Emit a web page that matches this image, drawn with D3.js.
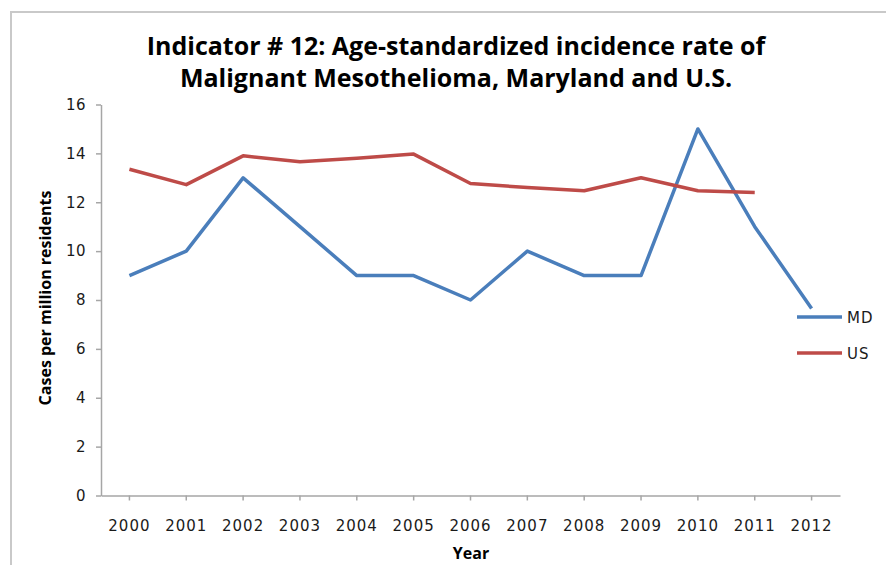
<!DOCTYPE html>
<html>
<head>
<meta charset="utf-8">
<script src="https://cdn.jsdelivr.net/npm/d3@7"></script>
<style>
  body { margin: 0; background: #fff; }
  svg { display: block; font-family: "Open Sans", "DejaVu Sans", sans-serif; }
  .tickfont { font-family: "DejaVu Sans", sans-serif; }
</style>
</head>
<body>
<svg id="chart" width="886" height="565"></svg>
<script>
// data
var years = ["2000","2001","2002","2003","2004","2005","2006","2007","2008","2009","2010","2011","2012"];
var mdValues = [9, 10, 13, 11, 9, 9, 8, 10, 9, 9, 15, 11, 7.65];
var usValues = [13.35, 12.72, 13.9, 13.66, 13.8, 13.97, 12.77, 12.6, 12.47, 13.0, 12.47, 12.4];
var yTicks = [0, 2, 4, 6, 8, 10, 12, 14, 16];
var seriesNames = ["MD", "US"];
var seriesColors = ["#4a7ebb", "#be4b48"];

var marge = {haut: 104.5, droite: 46, bas: 69.5, gauche: 101};
var largeur = 886, hauteur = 565;

var svg = d3.select("#chart");

// outer frame
svg.append("path")
  .attr("d", `M11,${hauteur + 5} V12 H${largeur + 5}`)
  .attr("fill", "none")
  .attr("stroke", "#c9c9c9")
  .attr("stroke-width", 2);

var xScale = d3.scaleBand().domain(years).range([marge.gauche, largeur - marge.droite]);
var yScale = d3.scaleLinear().domain([0, 16]).range([hauteur - marge.bas, marge.haut]);
var xPos = d => xScale(d) + xScale.bandwidth() / 2;

// y axis
var yAxis = g => g
  .attr("transform", `translate(${marge.gauche},0)`)
  .call(d3.axisLeft(yScale).tickValues(yTicks).tickSize(5).tickPadding(10).tickSizeOuter(0));
var gy = svg.append("g").call(yAxis);
gy.select(".domain").attr("stroke", "#a6a6a6").attr("stroke-width", 1.5);
gy.selectAll(".tick line").attr("stroke", "#a6a6a6").attr("stroke-width", 1.5);
gy.selectAll(".tick text").attr("class", "tickfont").attr("fill", "#1a1a1a")
  .style("font-size", "15px").style("letter-spacing", "0.5px");

// x axis
var gx = svg.append("g")
  .attr("transform", `translate(0,${hauteur - marge.bas})`)
  .call(d3.axisBottom(xScale).tickSize(5).tickPadding(20).tickSizeOuter(0));
gx.select(".domain").attr("stroke", "#a6a6a6").attr("stroke-width", 1.5);
gx.selectAll(".tick line").attr("stroke", "#a6a6a6").attr("stroke-width", 1.5);
gx.selectAll(".tick text").attr("class", "tickfont").attr("fill", "#1a1a1a")
  .style("font-size", "15px").style("letter-spacing", "1px");

// lines
var line = d3.line()
  .x((d, i) => xPos(years[i]))
  .y(d => yScale(d));

[mdValues, usValues].forEach(function(vals, k) {
  svg.append("path")
    .datum(vals)
    .attr("fill", "none")
    .attr("stroke", seriesColors[k])
    .attr("stroke-width", 3.5)
    .attr("stroke-linejoin", "round")
    .attr("d", line);
});

// legend
seriesNames.forEach(function(nom, k) {
  var y = 317 + k * 36;
  svg.append("line")
    .attr("x1", 797).attr("x2", 842)
    .attr("y1", y).attr("y2", y)
    .attr("stroke", seriesColors[k])
    .attr("stroke-width", 3.5);
  svg.append("text")
    .attr("class", "tickfont")
    .attr("x", 847).attr("y", y + 6)
    .style("font-size", "15px").style("letter-spacing", "1px")
    .attr("fill", "#1a1a1a")
    .text(nom);
});

// titles
svg.append("text")
  .attr("x", 456).attr("y", 55)
  .attr("text-anchor", "middle")
  .style("font-size", "25px").style("font-weight", "bold")
  .attr("fill", "#000")
  .text("Indicator # 12: Age-standardized incidence rate of");
svg.append("text")
  .attr("x", 456).attr("y", 87)
  .attr("text-anchor", "middle")
  .style("font-size", "25px").style("font-weight", "bold")
  .attr("fill", "#000")
  .text("Malignant Mesothelioma, Maryland and U.S.");

svg.append("text")
  .attr("x", 471).attr("y", 559)
  .attr("text-anchor", "middle")
  .style("font-size", "16px").style("font-weight", "bold")
  .text("Year");

svg.append("text")
  .attr("transform", "translate(51,298) rotate(-90)")
  .attr("text-anchor", "middle")
  .style("font-size", "16px").style("font-weight", "bold")
  .text("Cases per million residents");
</script>
</body>
</html>
